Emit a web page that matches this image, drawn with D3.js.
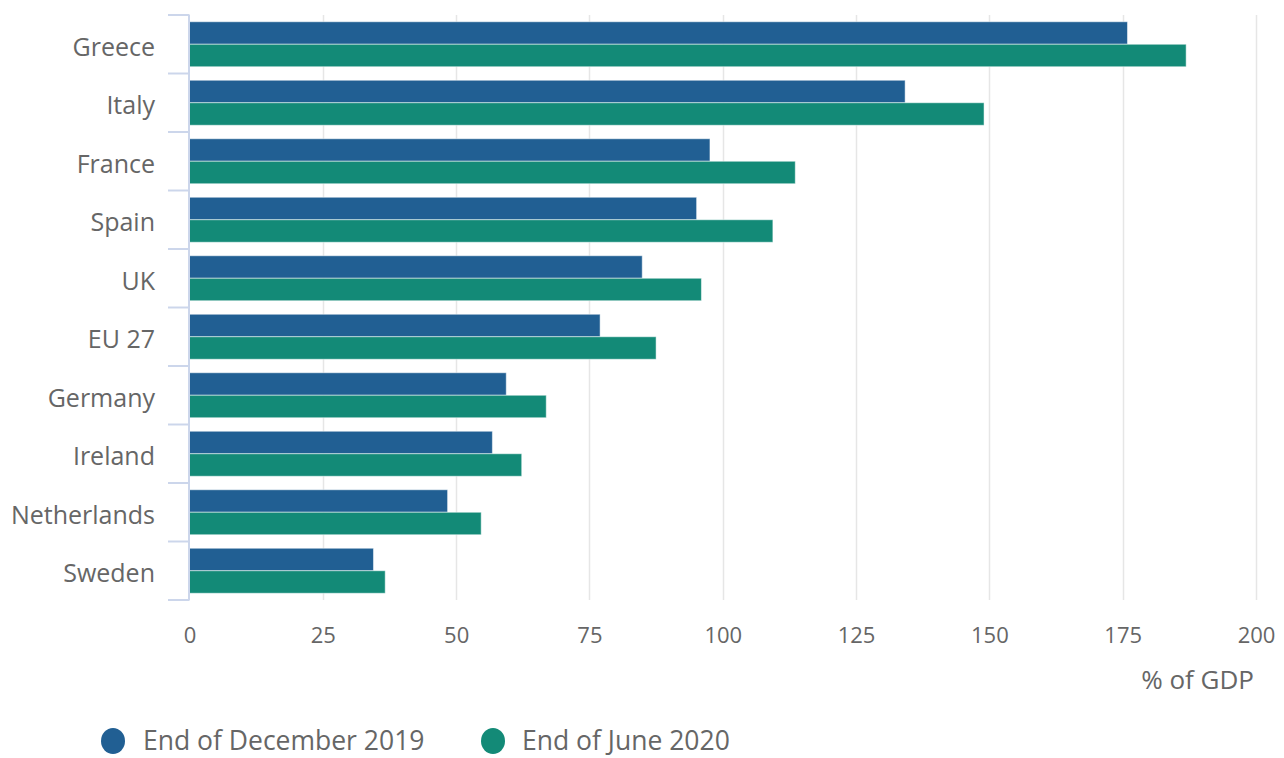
<!DOCTYPE html>
<html>
<head>
<meta charset="utf-8">
<script src="https://cdn.jsdelivr.net/npm/d3@7"></script>
<style>
  html, body { margin: 0; padding: 0; background: #fff; }
  svg { display: block; font-family: "Open Sans", "Noto Sans", sans-serif; }
</style>
</head>
<body>
<svg id="chart" width="1284" height="758"></svg>
<script>
// Government debt as % of GDP
const countries = ["Greece", "Italy", "France", "Spain", "UK", "EU 27", "Germany", "Ireland", "Netherlands", "Sweden"];
const seriesNames = ["End of December 2019", "End of June 2020"];
const dec2019 = [175.9, 134.2, 97.6, 95.1, 84.9, 77.0, 59.4, 56.8, 48.4, 34.5];
const jun2020 = [186.9, 149.0, 113.6, 109.4, 96.0, 87.5, 66.9, 62.3, 54.7, 36.7];
const xTicks = [0, 25, 50, 75, 100, 125, 150, 175, 200];
const colors = ["#215f93", "#138a77"];

const svg = d3.select("#chart");
const plotLeft = 189.5, plotRight = 1256, plotTop = 15, plotBottom = 600;

const x = d3.scaleLinear().domain([0, 200]).range([plotLeft, plotRight]);
const y = d3.scaleBand().domain(countries).range([plotTop, plotBottom]).paddingInner(0).paddingOuter(0);
const inner = d3.scaleBand().domain([0, 1]).range([0, y.bandwidth()]).paddingOuter(0.3).paddingInner(0);

// vertical gridlines
svg.append("g")
  .selectAll("line")
  .data(xTicks.slice(1))
  .join("line")
  .attr("x1", d => Math.round(x(d)) + 0.5)
  .attr("x2", d => Math.round(x(d)) + 0.5)
  .attr("y1", plotTop)
  .attr("y2", plotBottom)
  .attr("stroke", "#e6e6e6")
  .attr("stroke-width", 1.5);

// bars
const rows = countries.map((c, i) => ({ c, vals: [dec2019[i], jun2020[i]] }));
const groups = svg.append("g").selectAll("g")
  .data(rows)
  .join("g")
  .attr("transform", d => `translate(0,${y(d.c)})`);

groups.selectAll("rect")
  .data(d => d.vals.map((v, k) => ({ v, k })))
  .join("rect")
  .attr("x", x(0))
  .attr("y", d => inner(d.k))
  .attr("width", d => x(d.v) - x(0))
  .attr("height", inner.bandwidth())
  .attr("fill", d => colors[d.k])
  .attr("stroke", "rgba(255,255,255,0.5)")
  .attr("stroke-width", 1);

// y axis (category boundaries as ticks)
const yAxisG = svg.append("g");
yAxisG.append("line")
  .attr("x1", plotLeft - 0.5).attr("x2", plotLeft - 0.5)
  .attr("y1", plotTop).attr("y2", plotBottom)
  .attr("stroke", "#ccd6eb").attr("stroke-width", 2);
const boundaries = countries.map(c => y(c)).concat([plotBottom]);
yAxisG.selectAll("line.tick")
  .data(boundaries)
  .join("line")
  .attr("class", "tick")
  .attr("x1", 168).attr("x2", plotLeft)
  .attr("y1", d => d).attr("y2", d => d)
  .attr("stroke", "#ccd6eb").attr("stroke-width", 2);

yAxisG.selectAll("text")
  .data(countries)
  .join("text")
  .attr("x", 155)
  .attr("y", d => y(d) + y.bandwidth() / 2 + 11.5)
  .attr("text-anchor", "end")
  .attr("fill", "#666666")
  .attr("font-size", 25)
  .text(d => d);

// x axis labels
const xAxis = d3.axisBottom(x).tickValues(xTicks).tickSize(0).tickPadding(0);
const xg = svg.append("g").attr("transform", `translate(0,${plotBottom})`).call(xAxis);
xg.select(".domain").remove();
xg.selectAll("text")
  .attr("y", 42.5)
  .attr("dy", 0)
  .attr("fill", "#666666")
  .attr("font-size", 22)
  .attr("font-family", "\"Open Sans\", sans-serif");

svg.append("text")
  .attr("x", 1254)
  .attr("y", 689)
  .attr("text-anchor", "end")
  .attr("fill", "#666666")
  .attr("font-size", 26)
  .text("% of GDP");

// legend
const legendItems = [
  { name: seriesNames[0], color: colors[0], cx: 113, tx: 143 },
  { name: seriesNames[1], color: colors[1], cx: 493, tx: 522 }
];
const lg = svg.append("g").selectAll("g").data(legendItems).join("g");
lg.append("ellipse")
  .attr("cx", d => d.cx).attr("cy", 741)
  .attr("rx", 12).attr("ry", 13)
  .attr("fill", d => d.color);
lg.append("text")
  .attr("x", d => d.tx).attr("y", 750)
  .attr("fill", "#666666")
  .attr("font-size", 26.5)
  .text(d => d.name);
</script>
</body>
</html>
